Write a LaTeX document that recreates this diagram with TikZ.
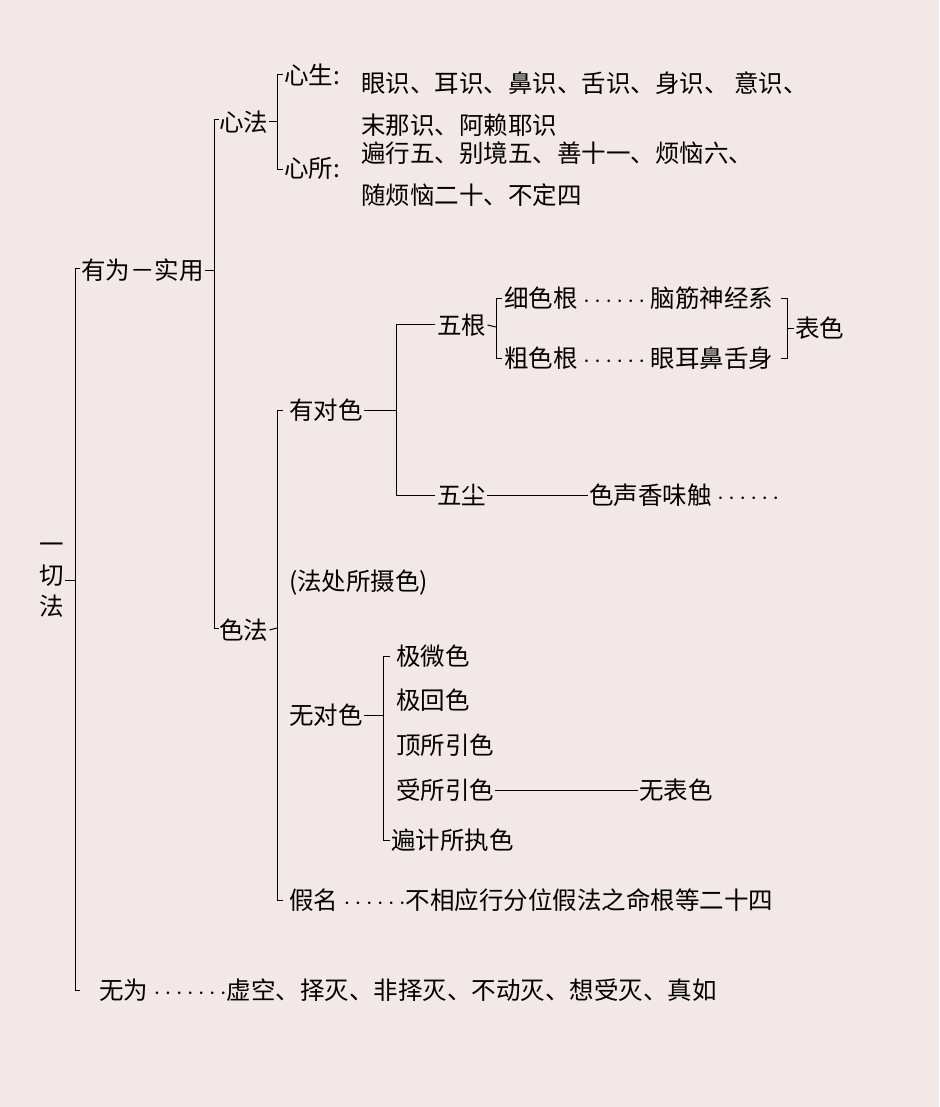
\documentclass[tikz,border=0pt]{standalone}
\usepackage{fontspec}
\setmainfont{Noto Sans CJK SC}
\definecolor{paper}{RGB}{243,232,232}
\newcommand{\dotsgap}{\ensuremath{\cdots\cdots}}
\begin{document}
\begin{tikzpicture}[x=1pt,y=-1pt,
    % styles
    item/.style={anchor=west,inner sep=1pt,font=\fontsize{24.5}{28}\selectfont},
    brace line/.style={black,line width=1pt},
    link line/.style={black,line width=1pt}]

  \fill[paper] (0,0) rectangle (939,1107);
  \useasboundingbox (0,0) rectangle (939,1107);

  % root
  \node[item,align=center,font=\fontsize{24.5}{31}\selectfont] (root) at (38,580) {一\\切\\法};
  \draw[brace line] (80,268) -- (75,268) -- (75,990) -- (80,990);
  \draw[link line] (root.east) -- (75,580);

  % youwei
  \node[item] (youwei) at (80,270) {有为－实用};
  \draw[brace line] (219,120) -- (214,120) -- (214,628) -- (219,628);
  \draw[link line] (youwei.east) -- (214,270);
  \node[item] (xinfa) at (218,122) {心法};
  \node[item] (sefa) at (218,630) {色法};

  % xinfa
  \draw[brace line] (283,75) -- (277,75) -- (277,170) -- (283,170);
  \draw[link line] (xinfa.east) -- (277,122);
  \node[item] (xinsheng) at (283,75) {心生:};
  \node[item] (xinsheng1) at (360,83) {眼识、耳识、鼻识、舌识、身识、 意识、};
  \node[item] (xinsheng2) at (360,125) {末那识、阿赖耶识};
  \node[item] (xinsuo) at (283,168) {心所:};
  \node[item] (xinsuo1) at (360,153) {遍行五、别境五、善十一、烦恼六、};
  \node[item] (xinsuo2) at (360,195) {随烦恼二十、不定四};

  % sefa
  \draw[brace line] (283,410) -- (277,410) -- (277,900) -- (283,900);
  \draw[link line] (sefa.east) -- (277,628);
  \node[item] (youduise) at (288,410) {有对色};
  \node[item] (fachu) at (288,583) {(法处所摄色)};
  \node[item] (wuduise) at (288,715) {无对色};
  \node[item] (jiaming) at (288,900) {假名 \dotsgap 不相应行分位假法之命根等二十四};

  % youduise
  \draw[link line] (youduise.east) -- (396,410);
  \draw[brace line] (435,324) -- (396,324) -- (396,495) -- (435,495);
  \node[item] (wugen) at (436,325) {五根};
  \node[item] (wuchen) at (436,495) {五尘};
  \node[item] (sesheng) at (588,495) {色声香味触 \dotsgap};
  \draw[link line] (wuchen.east) -- (sesheng.west);

  % wugen
  \draw[brace line] (502,298) -- (496,298) -- (496,358) -- (502,358);
  \draw[link line] (wugen.east) -- (496,327);
  \node[item] (xisegen) at (503,298) {细色根 \dotsgap\ 脑筋神经系};
  \node[item] (cusegen) at (503,358) {粗色根 \dotsgap\ 眼耳鼻舌身};
  \draw[brace line] (781,298) -- (787,298) -- (787,358) -- (781,358);
  \node[item] (biaose) at (794,328) {表色};
  \draw[link line] (787,328) -- (biaose.west);

  % wuduise
  \draw[brace line] (390,656) -- (383,656) -- (383,840) -- (390,840);
  \draw[link line] (wuduise.east) -- (383,715);
  \node[item] (jiwei) at (395,656) {极微色};
  \node[item] (jihui) at (395,700) {极回色};
  \node[item] (dingsuo) at (395,745) {顶所引色};
  \node[item] (shousuo) at (395,790) {受所引色};
  \node[item] (bianji) at (390,840) {遍计所执色};
  \node[item] (wubiao) at (638,790) {无表色};
  \draw[link line] (shousuo.east) -- (wubiao.west);

  % wuwei
  \node[item] (wuwei) at (98,990) {无为 \ensuremath{\cdots\cdots\cdot}虚空、择灭、非择灭、不动灭、想受灭、真如};
\end{tikzpicture}
\end{document}
